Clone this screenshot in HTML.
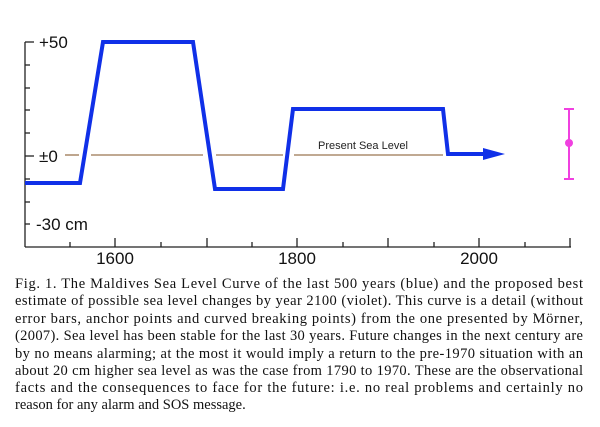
<!DOCTYPE html>
<html><head><meta charset="utf-8"><style>
html,body{margin:0;padding:0;background:#fff;width:600px;height:427px;overflow:hidden}
</style></head><body>
<svg width="600" height="427" viewBox="0 0 600 427" xmlns="http://www.w3.org/2000/svg">
<g stroke="#222" stroke-width="1.3" fill="none">
<line x1="25" y1="42" x2="25" y2="247"/>
<line x1="25" y1="247" x2="571" y2="247"/>
<line x1="25" y1="42" x2="34" y2="42"/>
<line x1="25" y1="65" x2="30" y2="65"/>
<line x1="25" y1="88" x2="30" y2="88"/>
<line x1="25" y1="110" x2="30" y2="110"/>
<line x1="25" y1="133" x2="30" y2="133"/>
<line x1="25" y1="156" x2="34" y2="156"/>
<line x1="25" y1="179" x2="30" y2="179"/>
<line x1="25" y1="202" x2="30" y2="202"/>
<line x1="25" y1="224" x2="30" y2="224"/>
<line x1="70" y1="247" x2="70" y2="242"/>
<line x1="115" y1="247" x2="115" y2="238"/>
<line x1="161" y1="247" x2="161" y2="242"/>
<line x1="207" y1="247" x2="207" y2="238"/>
<line x1="252" y1="247" x2="252" y2="242"/>
<line x1="297" y1="247" x2="297" y2="238"/>
<line x1="343" y1="247" x2="343" y2="242"/>
<line x1="388" y1="247" x2="388" y2="238"/>
<line x1="434" y1="247" x2="434" y2="242"/>
<line x1="479" y1="247" x2="479" y2="238"/>
<line x1="525" y1="247" x2="525" y2="242"/>
<line x1="570" y1="247" x2="570" y2="238"/>
</g>
<g font-family="Liberation Sans, sans-serif" font-size="17" fill="#111">
<text x="39" y="48">+50</text>
<text x="39" y="162">±0</text>
<text x="36" y="230">-30 cm</text>
<text x="115" y="264" text-anchor="middle">1600</text>
<text x="297" y="264" text-anchor="middle">1800</text>
<text x="479" y="264" text-anchor="middle">2000</text>
</g>
<g stroke="#9a7650" stroke-width="1.3">
<line x1="65" y1="155" x2="79" y2="155"/>
<line x1="91" y1="155" x2="203" y2="155"/>
<line x1="216" y1="155" x2="283" y2="155"/>
<line x1="294" y1="155" x2="443" y2="155"/>
</g>
<text x="318" y="149" font-family="Liberation Sans, sans-serif" font-size="11" fill="#222">Present Sea Level</text>
<polyline points="25,183 80,183 103,42 193,42 215,189 283,189 293,109 443,109 448,154 485,154" fill="none" stroke="#1030e8" stroke-width="4" stroke-linejoin="miter"/>
<polygon points="483,148 505,154 483,160" fill="#1030e8"/>
<g stroke="#f040e0" stroke-width="2">
<line x1="569" y1="109" x2="569" y2="179"/>
<line x1="564" y1="109" x2="574" y2="109"/>
<line x1="564" y1="179" x2="574" y2="179"/>
</g>
<circle cx="569" cy="143" r="4" fill="#f040e0"/>
<g font-family="Liberation Serif, serif" font-size="14.5" fill="#111">
<text x="15" y="288" textLength="568" lengthAdjust="spacing">Fig. 1. The Maldives Sea Level Curve of the last 500 years (blue) and the proposed best</text>
<text x="15" y="305" textLength="568" lengthAdjust="spacing">estimate of possible sea level changes by year 2100 (violet). This curve is a detail (without</text>
<text x="15" y="323" textLength="568" lengthAdjust="spacing">error bars, anchor points and curved breaking points) from the one presented by Mörner,</text>
<text x="15" y="340" textLength="568" lengthAdjust="spacing">(2007). Sea level has been stable for the last 30 years. Future changes in the next century are</text>
<text x="15" y="358" textLength="568" lengthAdjust="spacing">by no means alarming; at the most it would imply a return to the pre-1970 situation with an</text>
<text x="15" y="375" textLength="568" lengthAdjust="spacing">about 20 cm higher sea level as was the case from 1790 to 1970. These are the observational</text>
<text x="15" y="392" textLength="568" lengthAdjust="spacing">facts and the consequences to face for the future: i.e. no real problems and certainly no</text>
<text x="15" y="409">reason for any alarm and SOS message.</text>
</g>
</svg>
</body></html>
